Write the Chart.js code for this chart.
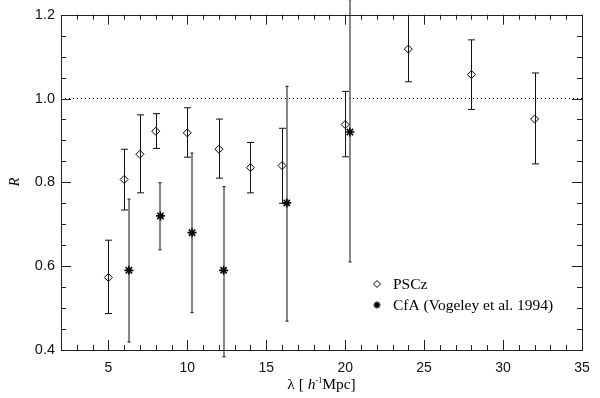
<!DOCTYPE html>
<html>
<head>
<meta charset="utf-8">
<script src="https://cdn.jsdelivr.net/npm/chart.js@4"></script>
<style>
  html, body { margin: 0; padding: 0; background: #fff; }
  #wrap { width: 600px; height: 398px; }
</style>
</head>
<body>
<div id="wrap"><canvas id="c" width="600" height="398"></canvas></div>
<script>
// PSCz points
var psczX = [5, 6, 7, 8, 10, 12, 14, 16, 20, 24, 28, 32];
var psczR = [0.573, 0.807, 0.867, 0.922, 0.918, 0.879, 0.835, 0.840, 0.938, 1.118, 1.057, 0.951];
var psczHi = [0.662, 0.879, 0.961, 0.964, 0.978, 0.951, 0.895, 0.929, 1.017, 1.198, 1.140, 1.061];
var psczLo = [0.487, 0.734, 0.775, 0.881, 0.860, 0.810, 0.775, 0.750, 0.861, 1.040, 0.974, 0.844];

// CfA (Vogeley et al. 1994)
var cfaX = [6.3, 8.3, 10.3, 12.3, 16.3, 20.3];
var cfaR = [0.590, 0.720, 0.680, 0.590, 0.751, 0.920];
var cfaHi = [0.760, 0.799, 0.870, 0.790, 1.029, 1.236];
var cfaLo = [0.419, 0.639, 0.489, 0.384, 0.469, 0.610];

var xMajor = [5, 10, 15, 20, 25, 30, 35];
var yMajor = [0.4, 0.6, 0.8, 1.0, 1.2];

function pts(xs, ys) {
  return xs.map(function (x, i) { return { x: x, y: ys[i] }; });
}

// error bars, inward ticks, frame, legend and axis titles
var decor = {
  id: 'decor',
  afterDatasetsDraw: function (chart) {
    var ctx = chart.ctx, xs = chart.scales.x, ys = chart.scales.y;
    ctx.save();
    ctx.strokeStyle = '#111';
    ctx.lineWidth = 1;
    function bars(xv, hi, lo, cap, off) {
      xv.forEach(function (x, i) {
        var px = Math.round(xs.getPixelForValue(x)) + off;
        var t = ys.getPixelForValue(hi[i]), b = ys.getPixelForValue(lo[i]);
        ctx.beginPath();
        ctx.moveTo(px, t); ctx.lineTo(px, b);
        ctx.moveTo(px - cap, t); ctx.lineTo(px + cap, t);
        ctx.moveTo(px - cap, b); ctx.lineTo(px + cap, b);
        ctx.stroke();
      });
    }
    bars(psczX, psczHi, psczLo, 3.5, 0.5);
    bars(cfaX, cfaHi, cfaLo, 1.5, 0);
    ctx.restore();
  },
  afterDraw: function (chart) {
    var ctx = chart.ctx, xs = chart.scales.x, ys = chart.scales.y, a = chart.chartArea;
    ctx.save();
    ctx.strokeStyle = '#222';
    ctx.lineWidth = 1;
    ctx.strokeRect(Math.round(a.left) + 0.5, Math.round(a.top) + 0.5,
      Math.round(a.right - a.left), Math.round(a.bottom - a.top));
    ctx.beginPath();
    for (var v = 3; v <= 35; v++) {
      var len = (v % 5 === 0) ? 10 : 5;
      var px = Math.round(xs.getPixelForValue(v)) + 0.5;
      ctx.moveTo(px, a.bottom); ctx.lineTo(px, a.bottom - len);
      ctx.moveTo(px, a.top); ctx.lineTo(px, a.top + len);
    }
    for (var k = 0; k <= 16; k++) {
      var yv = 0.4 + k * 0.05;
      var l2 = (k % 4 === 0) ? 10 : 5;
      var py = Math.round(ys.getPixelForValue(yv)) + 0.5;
      ctx.moveTo(a.left, py); ctx.lineTo(a.left + l2, py);
      ctx.moveTo(a.right, py); ctx.lineTo(a.right - l2, py);
    }
    ctx.stroke();

    // legend
    ctx.fillStyle = '#000';
    ctx.strokeStyle = '#000';
    ctx.font = '15.5px "Liberation Serif", serif';
    ctx.textBaseline = 'middle';
    var lx = 377, ly1 = 284, ly2 = 305;
    ctx.beginPath();
    ctx.moveTo(lx, ly1 - 3.5); ctx.lineTo(lx + 3.5, ly1); ctx.lineTo(lx, ly1 + 3.5); ctx.lineTo(lx - 3.5, ly1); ctx.closePath();
    ctx.stroke();
    ctx.fillText('PSCz', 393, ly1 + 1);
    ctx.lineWidth = 1.5;
    ctx.beginPath();
    for (var ang = 0; ang < 4; ang++) {
      var th = ang * Math.PI / 4;
      ctx.moveTo(lx - 3.5 * Math.cos(th), ly2 - 3.5 * Math.sin(th));
      ctx.lineTo(lx + 3.5 * Math.cos(th), ly2 + 3.5 * Math.sin(th));
    }
    ctx.stroke();
    ctx.fillText('CfA (Vogeley et al. 1994)', 393, ly2 + 1);

    // x title: λ [ h^-1 Mpc]
    var cx = (a.left + a.right) / 2, by = 389;
    var s1 = 'λ [ ', s2 = 'h', s3 = '-1', s4 = 'Mpc]';
    var fN = '15.5px "Liberation Serif", serif', fI = 'italic 15.5px "Liberation Serif", serif', fS = '8px "Liberation Serif", serif';
    ctx.textBaseline = 'alphabetic';
    ctx.font = fN; var w1 = ctx.measureText(s1).width, w4 = ctx.measureText(s4).width;
    ctx.font = fI; var w2 = ctx.measureText(s2).width;
    ctx.font = fS; var w3 = ctx.measureText(s3).width;
    var x0 = cx - (w1 + w2 + w3 + w4) / 2;
    ctx.font = fN; ctx.fillText(s1, x0, by);
    ctx.font = fI; ctx.fillText(s2, x0 + w1, by);
    ctx.font = fS; ctx.fillText(s3, x0 + w1 + w2, by - 6);
    ctx.font = fN; ctx.fillText(s4, x0 + w1 + w2 + w3, by);

    // y title
    ctx.translate(15, 182);
    ctx.rotate(-Math.PI / 2);
    ctx.textAlign = 'center';
    ctx.textBaseline = 'middle';
    ctx.font = 'italic 14px "Liberation Serif", serif';
    ctx.fillText('R', 0, 0);
    ctx.restore();
  }
};

new Chart(document.getElementById('c'), {
  type: 'scatter',
  data: {
    datasets: [
      {
        label: 'unity',
        type: 'line',
        data: [{ x: 2, y: 1.0 }, { x: 35, y: 1.0 }],
        borderColor: '#000',
        borderWidth: 1,
        borderDash: [1, 3],
        pointRadius: 0,
        order: 3
      },
      {
        label: 'PSCz',
        data: pts(psczX, psczR),
        pointStyle: 'rectRot',
        pointRadius: 4,
        backgroundColor: '#fff',
        borderColor: '#000',
        borderWidth: 1,
        order: 1
      },
      {
        label: 'CfA (Vogeley et al. 1994)',
        data: pts(cfaX, cfaR),
        pointStyle: 'star',
        pointRadius: 4.5,
        backgroundColor: '#000',
        borderColor: '#000',
        borderWidth: 1.6,
        order: 2
      }
    ]
  },
  options: {
    responsive: false,
    animation: false,
    clip: false,
    layout: { padding: { top: 14, right: 18, left: 0, bottom: 0 } },
    plugins: { legend: { display: false }, tooltip: { enabled: false } },
    scales: {
      x: {
        type: 'linear', min: 2, max: 35,
        afterBuildTicks: function (s) { s.ticks = xMajor.map(function (v) { return { value: v }; }); },
        afterFit: function (s) { s.height = 48; },
        grid: { display: false, drawTicks: false },
        border: { display: false },
        ticks: { color: '#111', padding: 10, font: { family: '"Liberation Sans", Arial, sans-serif', size: 14 } }
      },
      y: {
        type: 'linear', min: 0.4, max: 1.2,
        afterBuildTicks: function (s) { s.ticks = yMajor.map(function (v) { return { value: v }; }); },
        afterFit: function (s) { s.width = 61; },
        grid: { display: false, drawTicks: false },
        border: { display: false },
        ticks: {
          color: '#111', padding: 6,
          font: { family: '"Liberation Sans", Arial, sans-serif', size: 14.5 },
          callback: function (v) { return v.toFixed(1); }
        }
      }
    }
  },
  plugins: [decor]
});
</script>
</body>
</html>
